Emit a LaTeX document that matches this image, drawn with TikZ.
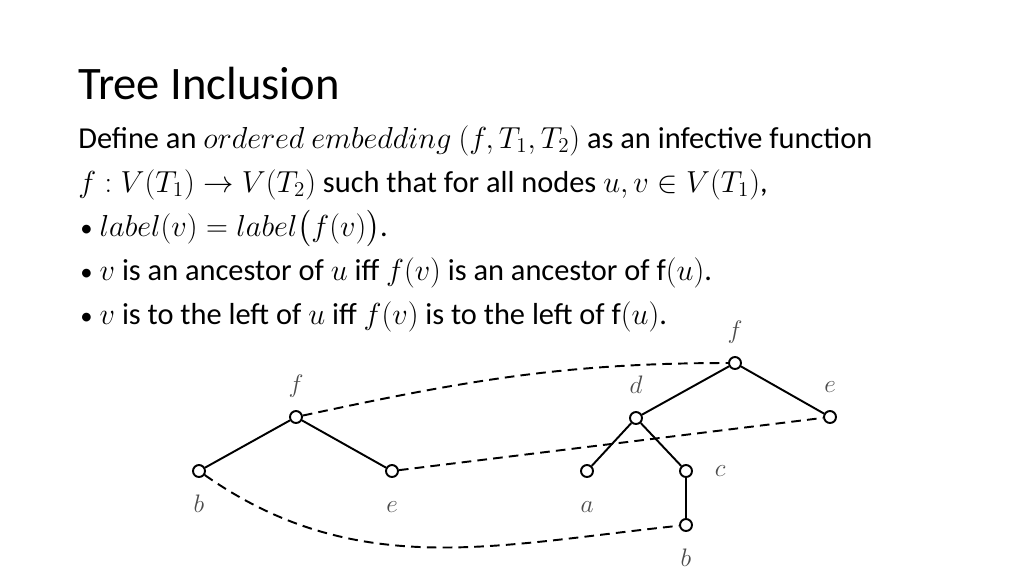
\documentclass[tikz,border=0pt]{standalone}
\usepackage{fontspec}
\setmainfont{Carlito}
\usepackage{amsmath}

\begin{document}
\begin{tikzpicture}[x=0.02cm, y=-0.02cm,
  vtx/.style={draw, circle, fill=white, line width=1.1pt, minimum size=0.24cm, inner sep=0pt},
  edge/.style={line width=1.1pt},
  emb/.style={line width=1.1pt, dash pattern=on 5.5pt off 3.5pt},
  lbl/.style={text=black!70, font=\fontsize{14}{16}\selectfont, text height=1.5ex, text depth=0.25ex, label distance=5pt},
  txt/.style={anchor=base west, inner sep=0pt, font=\fontsize{17.3}{20}\selectfont},
  ttl/.style={anchor=base west, inner sep=0pt, font=\fontsize{26.5}{32}\selectfont}]
\newcommand{\bul}{\makebox[11pt][l]{\fontsize{14}{14}\selectfont•}}
\useasboundingbox (0,0) rectangle (1024,576); % slide
\node[ttl] (title) at (78,99) {Tree Inclusion};
\node[txt] (def1) at (78,148) {Define an $ordered\ embedding$ $(f,T_1,T_2)$ as an infective function};
\node[txt] (def2) at (78,192) {$f:V(T_1)\rightarrow V(T_2)$ such that for all nodes $u,v\in V(T_1)$,};
\node[txt] (rule1) at (80,236) {\bul$label(v)=label\bigl(f(v)\bigr)$.};
\node[txt] (rule2) at (80,280) {\bul$v$ is an ancestor of $u$ iff $f(v)$ is an ancestor of $\mathrm{f}(u)$.};
\node[txt] (rule3) at (80,324) {\bul$v$ is to the left of $u$ iff $f(v)$ is to the left of $\mathrm{f}(u)$.};
% tree T1
\node[vtx, label={[lbl]above:$f$}] (lf) at (296,417) {};
\node[vtx, label={[lbl, label distance=9pt]below:$b$}] (lb) at (199,471) {};
\node[vtx, label={[lbl, label distance=9pt]below:$e$}] (le) at (392,471) {};
\draw[edge] (lb) -- (lf) -- (le);
% tree T2
\node[vtx, label={[lbl]above:$f$}] (rf) at (735,363) {};
\node[vtx, label={[lbl]above:$d$}] (rd) at (636,418) {};
\node[vtx, label={[lbl]above:$e$}] (re) at (830,417) {};
\node[vtx, label={[lbl, label distance=9pt]below:$a$}] (ra) at (587,471) {};
\node[vtx, label={[lbl, label distance=9pt]right:$c$}] (rc) at (686,471) {};
\node[vtx, label={[lbl, label distance=9pt]below:$b$}] (rb) at (686,525) {};
\draw[edge] (ra) -- (rd) -- (rf) -- (re);
\draw[edge] (rd) -- (rc) -- (rb);
% embedding
\draw[emb] (lf) .. controls (464,381) and (563,363) .. (rf); % f to f
\draw[emb] (le) -- (re); % e to e
\draw[emb] (lb) .. controls (356,581) and (495,545) .. (rb); % b to b
\end{tikzpicture}
\end{document}
